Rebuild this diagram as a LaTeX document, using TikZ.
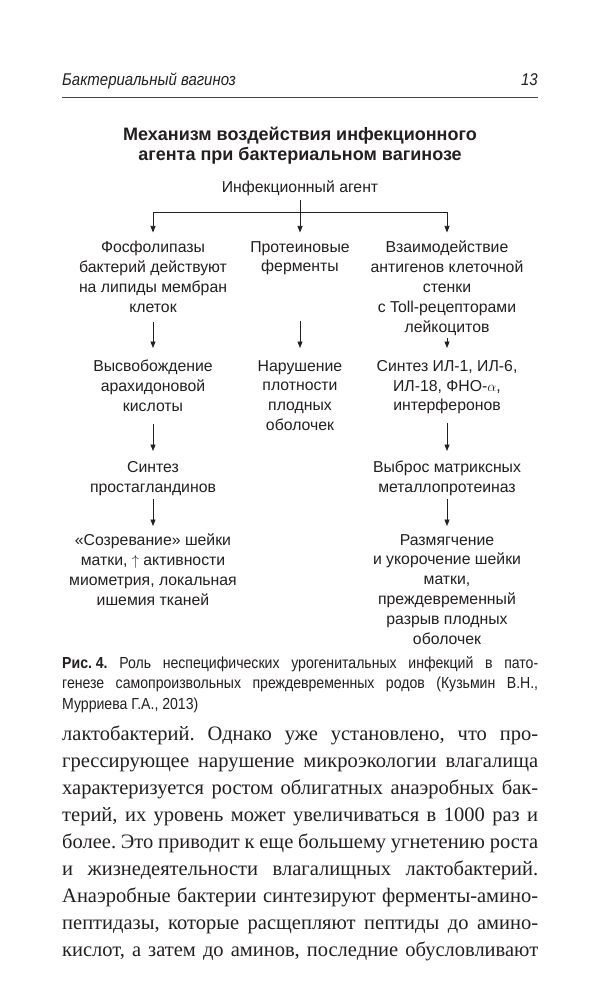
\documentclass[tikz,border=0pt]{standalone}
\usepackage{fontspec}
\setmainfont{Liberation Serif}
\setsansfont{Liberation Sans}
\newfontfamily\narrowsans[FakeStretch=0.88]{Liberation Sans}
\usetikzlibrary{arrows.meta,positioning}
\definecolor{ink}{RGB}{35,31,32}
\definecolor{rulegray}{RGB}{70,70,70}
\frenchspacing

\begin{document}
\begin{tikzpicture}[x=1pt, y=-1pt,
    lbl/.style={font=\sffamily\fontsize{15.8}{19.8}\selectfont, align=center,
                inner sep=0pt, anchor=north, text=ink},
    runhd/.style={font=\narrowsans\itshape\fontsize{17}{20}\selectfont, inner sep=0pt, text=ink},
    ttl/.style={font=\sffamily\bfseries\fontsize{18}{20}\selectfont, align=center,
                inner sep=0pt, anchor=north, text=ink},
    capt/.style={font=\narrowsans\fontsize{16}{20.5}\selectfont, align=left,
                 inner sep=0pt, anchor=north west, text=ink},
    body/.style={font=\rmfamily\fontsize{20.5}{27}\selectfont, align=left,
                 inner sep=0pt, anchor=north west, text=ink},
    link/.style={draw=ink, line width=0.75pt},
    arr/.style={link, -{Triangle[length=6.5pt,width=5pt]}},
  ]
    \fill[white] (0,0) rectangle (605,1000);
    \useasboundingbox (0,0) rectangle (605,1000);

    % running head
    \node[runhd, anchor=base west] (runhead) at (62,86) {Бактериальный вагиноз};
    \node[runhd, anchor=base east] (folio) at (538,86) {13};
    \draw[rulegray, line width=1pt] (62,98) -- (538,98);

    \node[ttl] (title) at (300,126.5) {Механизм воздействия инфекционного\\агента при бактериальном вагинозе};

    % scheme
    \node[lbl, anchor=base] (agent) at (300,192.5) {Инфекционный агент};
    \coordinate (jl) at (153,212.5);
    \coordinate (jm) at (300,212.5);
    \coordinate (jr) at (447,212.5);

    \node[lbl] (phos)  at (153,241) {Фосфолипазы\\бактерий действуют\\на липиды мембран\\клеток};
    \node[lbl] (prot)  at (300,241) {Протеиновые\\ферменты};
    \node[lbl] (inter) at (447,241) {Взаимодействие\\антигенов клеточной\\стенки\\с Toll-рецепторами\\лейкоцитов};

    \node[lbl] (arach) at (153,360) {Высвобождение\\арахидоновой\\кислоты};
    \node[lbl] (memb)  at (300,360) {Нарушение\\плотности\\плодных\\оболочек};
    \node[lbl] (cyto)  at (447,360) {Синтез ИЛ-1, ИЛ-6,\\ИЛ-18, ФНО-$\alpha$,\\интерферонов};

    \node[lbl] (prost) at (153,461) {Синтез\\простагландинов};
    \node[lbl] (mmp)   at (447,461) {Выброс матриксных\\металлопротеиназ};

    \node[lbl] (ripen) at (153,534) {«Созревание» шейки\\матки, $\uparrow$ активности\\миометрия, локальная\\ишемия тканей};
    \node[lbl] (soft)  at (447,534) {Размягчение\\и укорочение шейки\\матки,\\преждевременный\\разрыв плодных\\оболочек};

    \draw[link, shorten <=4.5pt] (agent.south) -- (jm);
    \draw[link] (jl) -- (jr);
    \draw[arr, shorten >=8.5pt] (jl) -- (phos.north);
    \draw[arr, shorten >=8.5pt] (jm) -- (prot.north);
    \draw[arr, shorten >=8.5pt] (jr) -- (inter.north);

    \draw[arr, shorten <=9.5pt, shorten >=12pt] (phos) -- (arach);
    \draw[arr, shorten <=45.5pt, shorten >=12pt] (prot) -- (memb);
    \draw[arr, shorten <=2.5pt, shorten >=12pt] (inter) -- (cyto);

    \draw[arr, shorten <=12pt, shorten >=10pt] (arach) -- (prost);
    \draw[arr, shorten <=9pt, shorten >=10pt] (cyto) -- (mmp);

    \draw[arr, shorten <=3pt, shorten >=8pt] (prost) -- (ripen);
    \draw[arr, shorten <=3pt, shorten >=8pt] (mmp) -- (soft);

    % caption
    \node[capt] (caption) at (62,656) {%
      \makebox[476pt][s]{{\bfseries\mbox{Рис. 4.}} Роль неспецифических урогенитальных инфекций в пато-}\\
      \makebox[476pt][s]{генезе самопроизвольных преждевременных родов (Кузьмин В.Н.,}\\
      Мурриева Г.А., 2013)};

    % running text
    \node[body] (para) at (62,725.5) {%
      \makebox[476pt][s]{лактобактерий. Однако уже установлено, что про-}\\
      \makebox[476pt][s]{грессирующее нарушение микроэкологии влагалища}\\
      \makebox[476pt][s]{характеризуется ростом облигатных анаэробных бак-}\\
      \makebox[476pt][s]{терий, их уровень может увеличиваться в 1000 раз и}\\
      \makebox[476pt][s]{более. Это приводит к еще большему угнетению роста}\\
      \makebox[476pt][s]{и жизнедеятельности влагалищных лактобактерий.}\\
      \makebox[476pt][s]{Анаэробные бактерии синтезируют ферменты-амино-}\\
      \makebox[476pt][s]{пептидазы, которые расщепляют пептиды до амино-}\\
      \makebox[476pt][s]{кислот, а затем до аминов, последние обусловливают}};
  \end{tikzpicture}
\end{document}
